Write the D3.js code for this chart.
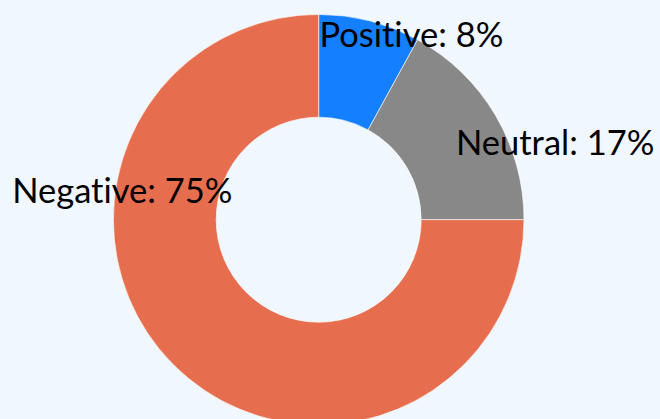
<!DOCTYPE html>
<html>
<head>
<meta charset="utf-8">
<script src="https://cdn.jsdelivr.net/npm/d3@7"></script>
<style>
  html, body { margin: 0; padding: 0; background: #f0f7ff; }
  #chart { width: 660px; height: 419px; }
  text { font-family: Lato, sans-serif; font-variant-ligatures: none; }
</style>
</head>
<body>
<div id="chart"></div>
<script>
const categories = ["Positive", "Neutral", "Negative"];
const shares = [8, 17, 75];
const colors = ["#1480ff", "#888888", "#e76d4f"];

// label placement (degrees clockwise from 12 o'clock, radius as fraction of outer radius)
const labelAngles = [28.2, 74.7, 274.8];
const labelRadii = [0.955, 1.194, 0.96];

const width = 660, height = 419;
const outerRadius = 205.3, innerRadius = 102.5;
const cx = 318.7, cy = 219.7;

const svg = d3.select("#chart")
  .append("svg")
  .attr("width", width)
  .attr("height", height);

svg.append("rect")
  .attr("width", width)
  .attr("height", height)
  .attr("fill", "#f0f7ff");

const g = svg.append("g")
  .attr("transform", "translate(" + cx + "," + cy + ")");

const pie = d3.pie()
  .sort(null)
  .value(d => d);

const arc = d3.arc()
  .innerRadius(innerRadius)
  .outerRadius(outerRadius);

const slices = pie(shares);

g.selectAll(".slice")
  .data(slices)
  .enter().append("path")
    .attr("class", "slice")
    .attr("d", arc)
    .attr("fill", (d, i) => colors[i])
    .attr("stroke", "#ffffff")
    .attr("stroke-width", 0.6);

g.selectAll(".label")
  .data(slices)
  .enter().append("text")
    .attr("class", "label")
    .attr("text-anchor", "middle")
    .attr("font-size", "34.5px")
    .attr("fill", "#000")
    .attr("transform", (d, i) => {
      const p = d3.pointRadial(labelAngles[i] * Math.PI / 180, outerRadius * labelRadii[i]);
      return "translate(" + p[0] + "," + p[1] + ")";
    })
    .text((d, i) => categories[i] + ": " + shares[i] + "%");
</script>
</body>
</html>
